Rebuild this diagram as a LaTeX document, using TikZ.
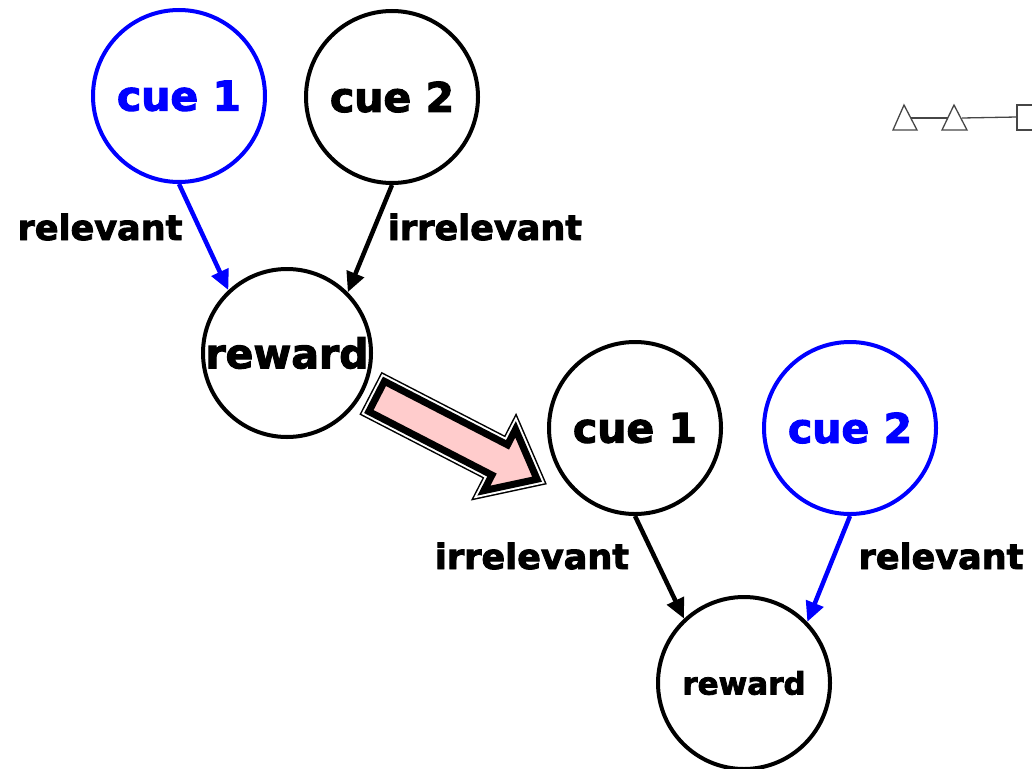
\documentclass[tikz,border=0pt]{standalone}
\usepackage{fontspec}
\setmainfont{DejaVu Sans}[BoldFont={DejaVu Sans Bold}, BoldFeatures={FakeBold=2.5}]
\usetikzlibrary{arrows.meta}
\definecolor{cueblue}{RGB}{0,0,255}
\definecolor{arrowpink}{RGB}{255,204,204}
\definecolor{sketchgray}{RGB}{70,70,70}
\begin{document}
\begin{tikzpicture}[x=1pt,y=-1pt,
  cue/.style={circle, draw, line width=4pt, minimum size=#1, inner sep=0pt,
    font=\bfseries\fontsize{41}{48}\selectfont},
  cue/.default=172pt,
  link/.style={line width=4.5pt, -{Triangle[length=20pt,width=18pt]}},
  tag/.style={font=\bfseries\fontsize{35}{42}\selectfont, inner sep=0pt},
  bigarrow/.style={preaction={draw=black, line width=14pt},
    preaction={draw=white, line width=11pt},
    fill=arrowpink, draw=black, line width=7pt, line join=miter},
  sketch/.style={draw=sketchgray, line width=1.3pt}
]
\useasboundingbox (0,0) rectangle (1032,768);

% first configuration: cue 1 relevant
\node[cue, draw=cueblue, text=cueblue] (ca1) at (179,96) {cue 1};
\node[cue] (ca2) at (392,97) {cue 2};
\node[cue=168pt, font=\bfseries\fontsize{41}{48}\selectfont] (ra) at (287,353) {\makebox[0pt]{reward}};
\draw[link, cueblue] (ca1.south) -- (ra.133);
\draw[link] (ca2.south) -- (ra.45);
\node[tag] (la1) at (100,227) {relevant};
\node[tag] (la2) at (485,227) {irrelevant};

% second configuration: cue 2 relevant
\node[cue] (cb1) at (635,428) {cue 1};
\node[cue, draw=cueblue, text=cueblue] (cb2) at (850,428) {cue 2};
\node[cue, font=\bfseries\fontsize{31}{38}\selectfont] (rb) at (744,683) {reward};
\draw[link] (cb1.south) -- (rb.133);
\draw[link, cueblue] (cb2.south) -- (rb.44);
\node[tag] (lb1) at (532,556) {irrelevant};
\node[tag] (lb2) at (941,556) {relevant};

% block arrow between the two configurations
\begin{scope}[shift={(370,393)}, rotate=-27.3]
  \path[bigarrow] (7.5,-17) -- (146,-17) -- (146,-34.5) -- (188,0)
    -- (146,34.5) -- (146,17) -- (7.5,17) -- cycle;
\end{scope}

% pencil sketch in the corner
\draw[sketch] (904,105) -- (917,130) -- (893,130) -- cycle;
\draw[sketch] (954,105) -- (967,130) -- (942,130) -- cycle;
\draw[sketch] (911,118) -- (948,118);
\draw[sketch] (962,118) -- (1017,117);
\draw[sketch] (1032,105) -- (1017,105) -- (1017,130) -- (1032,130);
\end{tikzpicture}
\end{document}
